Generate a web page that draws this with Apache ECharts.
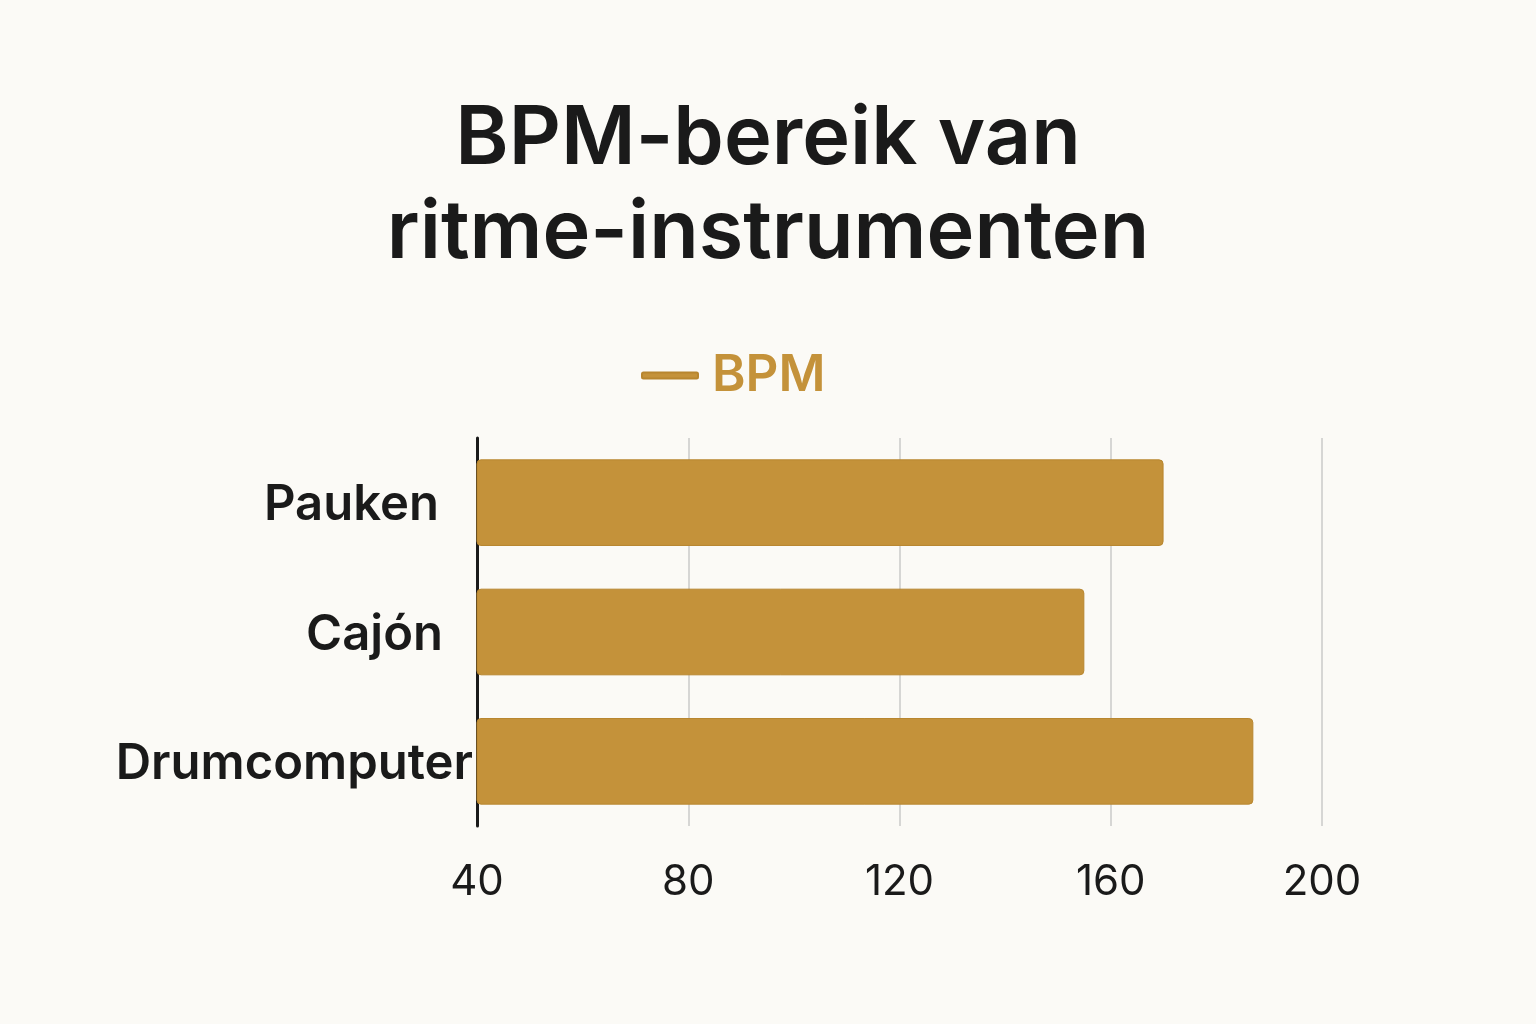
<!DOCTYPE html>
<html>
<head>
<meta charset="utf-8">
<script src="https://cdn.jsdelivr.net/npm/echarts@6/dist/echarts.min.js"></script>
<style>
html,body{margin:0;padding:0;background:#FBFAF6;}
#chart{width:1536px;height:1024px;}
</style>
</head>
<body>
<div id="chart"></div>
<script>
const titleText = 'BPM-bereik van\nritme-instrumenten';
const seriesName = 'BPM';
const categories = ['Pauken', 'Cajón', 'Drumcomputer'];
const bpmValues = [170, 155, 187];
const xMin = 40, xMax = 200, xInterval = 40;

const gold = '#C4923A';
const labelPads = { 'Pauken': 34, 'Cajón': 30, 'Drumcomputer': 0 };
const richStyles = {};
categories.forEach((c, i) => {
  richStyles['c' + i] = { fontFamily: 'Inter', fontSize: 49, fontWeight: 600, color: '#1A1A1A', padding: [6, labelPads[c] || 0, 0, 0] };
});

const chart = echarts.init(document.getElementById('chart'));
chart.setOption({
  backgroundColor: '#FBFAF6',
  animation: false,
  textStyle: { fontFamily: 'Inter' },
  title: {
    text: titleText,
    left: 'center',
    top: 88,
    textStyle: { fontFamily: 'Inter', fontSize: 81, fontWeight: 600, lineHeight: 94, color: '#1A1A1A' }
  },
  legend: {
    top: 345,
    left: 636,
    data: [{ name: seriesName, icon: 'roundRect' }],
    itemWidth: 56,
    itemHeight: 6,
    textStyle: { fontFamily: 'Inter', fontSize: 51, fontWeight: 600, color: gold, padding: [0, 0, 0, 9] }
  },
  grid: { left: 477, right: 214, top: 438, bottom: 198 },
  xAxis: {
    type: 'value',
    min: xMin, max: xMax, interval: xInterval,
    axisLine: { show: false },
    axisTick: { show: false },
    splitLine: { show: true, lineStyle: { color: '#D6D6D4', width: 2 } },
    axisLabel: { fontFamily: 'Inter', fontSize: 42, color: '#1A1A1A', margin: 35 }
  },
  yAxis: {
    type: 'category',
    inverse: true,
    data: categories,
    axisLine: { show: true, lineStyle: { color: '#1A1A1A', width: 3 } },
    axisTick: { show: false },
    axisLabel: {
      margin: 4,
      formatter: (v) => '{c' + categories.indexOf(v) + '|' + v + '}',
      rich: richStyles
    }
  },
  series: [{
    name: seriesName,
    type: 'bar',
    data: bpmValues,
    barWidth: '67%',
    itemStyle: { color: gold, borderColor: '#B8862F', borderWidth: 1, borderRadius: 4 }
  }]
});
</script>
</body>
</html>
